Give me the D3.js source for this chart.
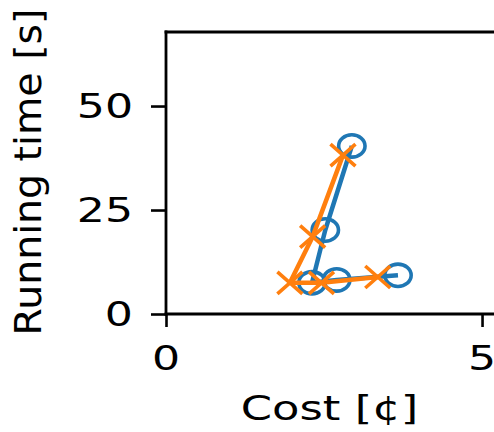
<!DOCTYPE html>
<html>
<head>
<meta charset="utf-8">
<script src="https://cdn.jsdelivr.net/npm/d3@7"></script>
<style>
  html, body { margin: 0; padding: 0; background: #fff; }
  svg { display: block; }
  text { font-family: "DejaVu Sans", sans-serif; fill: #000; }
</style>
</head>
<body>
<svg id="chart" width="494" height="432"></svg>
<script>
// ---- data ----
const blueCost = [2.94, 2.52, 2.31, 2.70, 3.67];
const blueTime = [40.4, 20.2, 7.5, 8.2, 9.3];
const orangeCost = [2.80, 2.32, 1.96, 2.46, 3.35];
const orangeTime = [38.2, 18.6, 7.5, 7.5, 8.9];
const xTicks = [0, 5];
const yTicks = [0, 25, 50];
const xLabel = "Cost [¢]";
const yLabel = "Running time [s]";

(function () {
const svg = d3.select("#chart");
const pL = 166, pR = 495, pT = 32, pB = 314;
const x = d3.scaleLinear().domain([0, 5.205]).range([pL, pR]);
const y = d3.scaleLinear().domain([0, 67.8]).range([pB, pT]);

const blueColor = "#1f77b4", orangeColor = "#ff7f0e";

function series(cs, ts) { return cs.map((c, i) => ({ c, t: ts[i] })); }
const blue = series(blueCost, blueTime);
const orange = series(orangeCost, orangeTime);

const line = d3.line().x(d => x(d.c)).y(d => y(d.t));

// blue series
svg.append("path").datum(blue).attr("d", line)
  .attr("fill", "none").attr("stroke", blueColor).attr("stroke-width", 4.5)
  .attr("stroke-linejoin", "round");
svg.selectAll(".bm").data(blue).enter().append("ellipse")
  .attr("cx", d => x(d.c)).attr("cy", d => y(d.t))
  .attr("rx", 13.2).attr("ry", 11.2)
  .attr("fill", "none").attr("stroke", blueColor).attr("stroke-width", 3.6);

// orange series
svg.append("path").datum(orange).attr("d", line)
  .attr("fill", "none").attr("stroke", orangeColor).attr("stroke-width", 4.5)
  .attr("stroke-linejoin", "round");
const dx = 12.5, dy = 11;
svg.selectAll(".om").data(orange).enter().append("path")
  .attr("d", d => {
    const cx = x(d.c), cy = y(d.t);
    return `M${cx - dx},${cy - dy}L${cx + dx},${cy + dy}M${cx - dx},${cy + dy}L${cx + dx},${cy - dy}`;
  })
  .attr("fill", "none").attr("stroke", orangeColor).attr("stroke-width", 3.6);

// spines
function ln(x1, y1, x2, y2) {
  svg.append("line").attr("x1", x1).attr("y1", y1).attr("x2", x2).attr("y2", y2)
    .attr("stroke", "#000").attr("stroke-width", 2.8).attr("stroke-linecap", "square");
}
ln(pL, pT, pR, pT);
ln(pL, pT, pL, pB);
ln(pL, pB, pR, pB);

// axes (ticks)
const xAxis = d3.axisBottom(x).tickValues(xTicks).tickSize(13).tickSizeOuter(0).tickFormat("");
const gx = svg.append("g").attr("transform", `translate(0,${pB})`).call(xAxis);
gx.select(".domain").remove();
gx.selectAll(".tick line").attr("stroke", "#000").attr("stroke-width", 2.6);

const yAxis = d3.axisLeft(y).tickValues(yTicks).tickSize(15).tickSizeOuter(0).tickFormat("");
const gy = svg.append("g").attr("transform", `translate(${pL},0)`).call(yAxis);
gy.select(".domain").remove();
gy.selectAll(".tick line").attr("stroke", "#000").attr("stroke-width", 2.6);

// tick labels (wide glyphs, as in the picture)
const tickFont = 34, tickStretch = 1.3;
svg.selectAll(".xt").data(xTicks).enter().append("text")
  .attr("transform", d => `translate(${x(d)},370) scale(${tickStretch},1)`)
  .attr("text-anchor", "middle").attr("font-size", tickFont)
  .text(d => d);
svg.selectAll(".yt").data(yTicks).enter().append("text")
  .attr("transform", d => `translate(133,${y(d) + 12.4}) scale(${tickStretch},1)`)
  .attr("text-anchor", "end").attr("font-size", tickFont)
  .text(d => d);

// axis labels
svg.append("text")
  .attr("transform", `translate(${(pL + pR) / 2 - 1},420) scale(1.32,1)`)
  .attr("text-anchor", "middle").attr("font-size", 34)
  .text(xLabel);
svg.append("text")
  .attr("transform", `translate(41,172) rotate(-90) scale(1.065,1)`)
  .attr("text-anchor", "middle").attr("font-size", 37)
  .text(yLabel);
})();
</script>
</body>
</html>
